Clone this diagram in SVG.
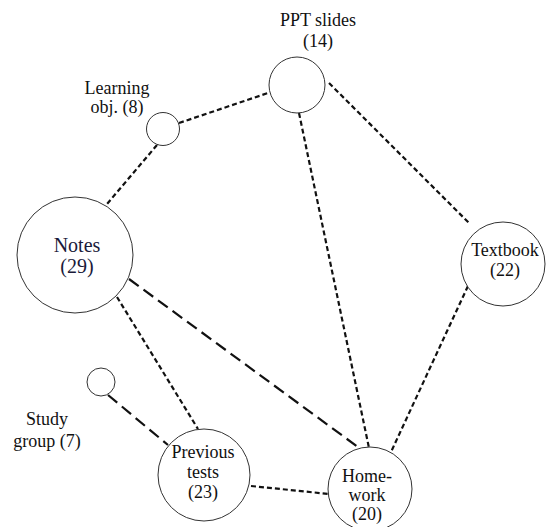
<svg xmlns="http://www.w3.org/2000/svg" width="547" height="527" viewBox="0 0 547 527">
<style>
.node circle{fill:#fff;stroke:#333;stroke-width:1}
text{font-family:"Liberation Serif","Times New Roman",serif;font-size:18px;fill:#111;text-anchor:middle}
.big{font-size:20px;fill:#1a1a3a}
.short{stroke:#111;stroke-width:2.2;stroke-dasharray:5 3;fill:none}
.long{stroke:#111;stroke-width:2.2;stroke-dasharray:12 6;fill:none}
</style>
<rect width="547" height="527" fill="#fff"/>
<g id="connectors">
<line class="short" x1="179" y1="123" x2="268" y2="93"/>
<line class="short" x1="157" y1="145" x2="107" y2="204"/>
<line class="short" x1="329" y1="83" x2="469" y2="223"/>
<line class="short" x1="299" y1="113" x2="369" y2="448"/>
<line class="short" x1="468" y1="286" x2="391" y2="452"/>
<line class="long" x1="129" y1="279" x2="362" y2="450"/>
<line class="short" x1="117" y1="297" x2="198" y2="429"/>
<line class="long" x1="108" y1="395" x2="168" y2="445"/>
<line class="short" x1="251" y1="486" x2="329" y2="494"/>
</g>
<g id="ppt" class="node">
<circle cx="297" cy="85" r="28"/>
<text x="318" y="26">PPT slides</text>
<text x="318" y="47">(14)</text>
</g>
<g id="learning" class="node">
<circle cx="163" cy="129" r="16.5"/>
<text x="117" y="94">Learning</text>
<text x="117" y="113">obj. (8)</text>
</g>
<g id="notes" class="node">
<circle cx="75" cy="255" r="58"/>
<text class="big" x="77" y="252">Notes</text>
<text class="big" x="77" y="273">(29)</text>
</g>
<g id="textbook" class="node">
<circle cx="503" cy="264" r="42"/>
<text x="505" y="256">Textbook</text>
<text x="505" y="276">(22)</text>
</g>
<g id="study" class="node">
<circle cx="101" cy="382" r="14"/>
<text x="47" y="425">Study</text>
<text x="47" y="447">group (7)</text>
</g>
<g id="previous" class="node">
<circle cx="204" cy="475" r="46"/>
<text x="203" y="458">Previous</text>
<text x="203" y="478">tests</text>
<text x="203" y="498">(23)</text>
</g>
<g id="homework" class="node">
<circle cx="370" cy="489" r="42"/>
<text x="367" y="482">Home-</text>
<text x="367" y="501">work</text>
<text x="367" y="520">(20)</text>
</g>
</svg>
